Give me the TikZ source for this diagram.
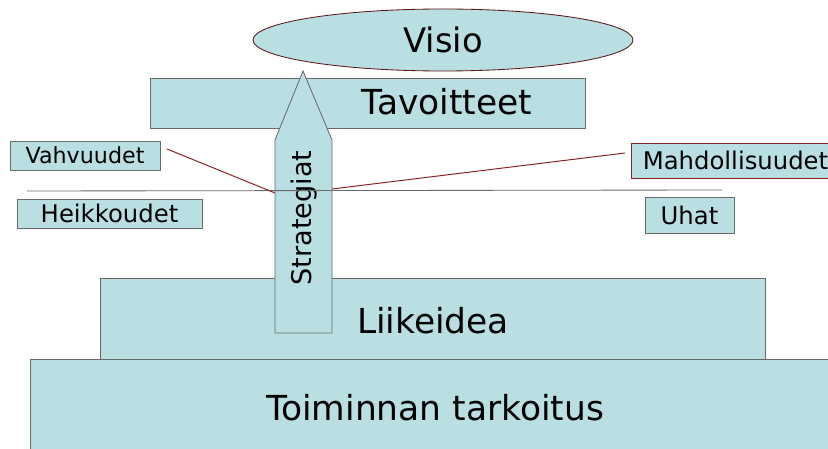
\documentclass[tikz,border=0pt]{standalone}
\usepackage{fontspec}
\setmainfont{DejaVu Sans}
\usetikzlibrary{shapes.geometric}
\definecolor{pale}{RGB}{185,223,227}
\definecolor{edge}{RGB}{105,105,105}
\definecolor{rust}{RGB}{135,35,35}
\begin{document}
\begin{tikzpicture}[x=0.25mm,y=-0.25mm,
	block/.style={draw=edge,fill=pale,line width=0.6pt},
	big/.style={font=\fontsize{24.5pt}{29pt}\selectfont},
	small/.style={font=\fontsize{17.3pt}{20pt}\selectfont},
	link/.style={draw=rust,line width=0.7pt}]
	
	\useasboundingbox (0,0) rectangle (828,449);
	
	\draw[block] (30,359) rectangle node[big] (toim) {Toiminnan tarkoitus} (840,457);
	\draw[block] (100,278) rectangle (765,359);
	\node[big] (liik) at (433,321) {Liikeidea};
	
	\draw[block] (150,78) rectangle (585,128);
	\node[big] (tavo) at (447,102) {Tavoitteet};
	
	\node[ellipse,draw=rust!70!black,fill=pale,line width=0.6pt,minimum width=95mm,minimum height=15.5mm,font=\fontsize{24pt}{29pt}\selectfont] (visio) at (443,40) {Visio};
	
	\draw[block] (275,333) -- (275,140) -- (303,71) -- (332,140) -- (332,333) -- cycle;
	\node[rotate=90,font=\fontsize{19.3pt}{22pt}\selectfont] (strat) at (304,218) {Strategiat};
	
	\draw[edge,line width=0.6pt] (27,191) -- (722,190);
	
	\draw[block] (10,141) rectangle node[font=\fontsize{15.8pt}{18pt}\selectfont] (vahv) {Vahvuudet} (160,170);
	\draw[block] (17,199) rectangle node[small] (heik) {Heikkoudet} (202,228);
	\draw[block,draw=rust] (631,143) rectangle node[small] (mahd) {Mahdollisuudet} (840,178);
	\draw[block] (645,197) rectangle node[small] (uhat) {Uhat} (734,233);
	
	\coordinate (vs) at (167,149);
	\coordinate (vl) at (275,193);
	\coordinate (vr) at (332,189);
	\coordinate (ms) at (625,153);
	\draw[link] (vs) -- (vl);
	\draw[link] (vr) -- (ms);
	
\end{tikzpicture}
\end{document}
